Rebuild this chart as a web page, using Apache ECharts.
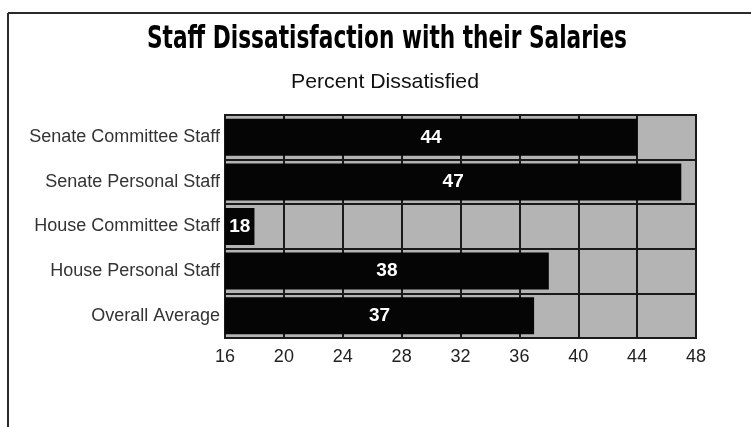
<!DOCTYPE html>
<html>
<head>
<meta charset="utf-8">
<script src="https://cdn.jsdelivr.net/npm/echarts@6/dist/echarts.min.js"></script>
<style>
  html, body { margin: 0; padding: 0; background: #fff; }
  #chart { width: 751px; height: 427px; }
</style>
</head>
<body>
<div id="chart"></div>
<script>
// Survey groups, top to bottom
const categories = [
  'Senate Committee Staff',
  'Senate Personal Staff',
  'House Committee Staff',
  'House Personal Staff',
  'Overall Average'
];
// Percent dissatisfied with salary
const percentDissatisfied = [44, 47, 18, 38, 37];
// Value axis range and step
const axisMin = 16;
const axisMax = 48;
const axisStep = 4;

const titleText = 'Staff Dissatisfaction with their Salaries';
const subtitleText = 'Percent Dissatisfied';

// Horizontal stretch factor so a line of text spans a given width
function fitScale(text, font, width) {
  const ctx = document.createElement('canvas').getContext('2d');
  ctx.font = font;
  const w = ctx.measureText(text).width;
  return w > 0 ? width / w : 1;
}

const titleFont = 'bold 32px "DejaVu Sans Condensed", "Liberation Sans", sans-serif';
const subFont = '21px "Liberation Sans", sans-serif';

const chart = echarts.init(document.getElementById('chart'), null, { renderer: 'canvas' });

chart.setOption({
  backgroundColor: '#ffffff',
  animation: false,
  grid: {
    left: 225, right: 55, top: 115, bottom: 89,
    outerBoundsMode: 'none',
    containLabel: false,
    show: true,
    backgroundColor: '#b4b4b4',
    borderColor: '#1a1a1a',
    borderWidth: 2
  },
  xAxis: {
    type: 'value',
    min: axisMin,
    max: axisMax,
    interval: axisStep,
    axisLine: { show: false },
    axisTick: { show: false },
    splitLine: { show: true, lineStyle: { color: '#1a1a1a', width: 2 } },
    axisLabel: {
      margin: 10,
      color: '#222',
      fontFamily: '"Liberation Sans", sans-serif',
      fontSize: 18
    }
  },
  yAxis: {
    type: 'category',
    data: categories,
    inverse: true,
    axisLine: { show: false },
    axisTick: { show: false },
    splitLine: { show: true, lineStyle: { color: '#1a1a1a', width: 2 } },
    axisLabel: {
      margin: 5,
      color: '#333',
      fontFamily: '"Liberation Sans", sans-serif',
      fontSize: 18
    }
  },
  series: [{
    type: 'bar',
    data: percentDissatisfied,
    barWidth: 37,
    itemStyle: { color: '#050505' },
    label: {
      show: true,
      position: 'inside',
      color: '#ffffff',
      fontFamily: '"Liberation Sans", sans-serif',
      fontWeight: 'bold',
      fontSize: 19
    }
  }],
  graphic: [
    {
      type: 'line',
      shape: { x1: 8, y1: 13, x2: 751, y2: 13 },
      style: { stroke: '#2a2a2a', lineWidth: 2 }
    },
    {
      type: 'line',
      shape: { x1: 8, y1: 13, x2: 8, y2: 427 },
      style: { stroke: '#2a2a2a', lineWidth: 2 }
    },
    {
      type: 'text',
      x: 387,
      y: 40,
      scaleX: fitScale(titleText, titleFont, 480),
      style: {
        text: titleText,
        font: titleFont,
        fill: '#000',
        textAlign: 'center',
        textVerticalAlign: 'middle'
      }
    },
    {
      type: 'text',
      x: 385,
      y: 82,
      scaleX: fitScale(subtitleText, subFont, 188),
      style: {
        text: subtitleText,
        font: subFont,
        fill: '#111',
        textAlign: 'center',
        textVerticalAlign: 'middle'
      }
    }
  ]
});
</script>
</body>
</html>
